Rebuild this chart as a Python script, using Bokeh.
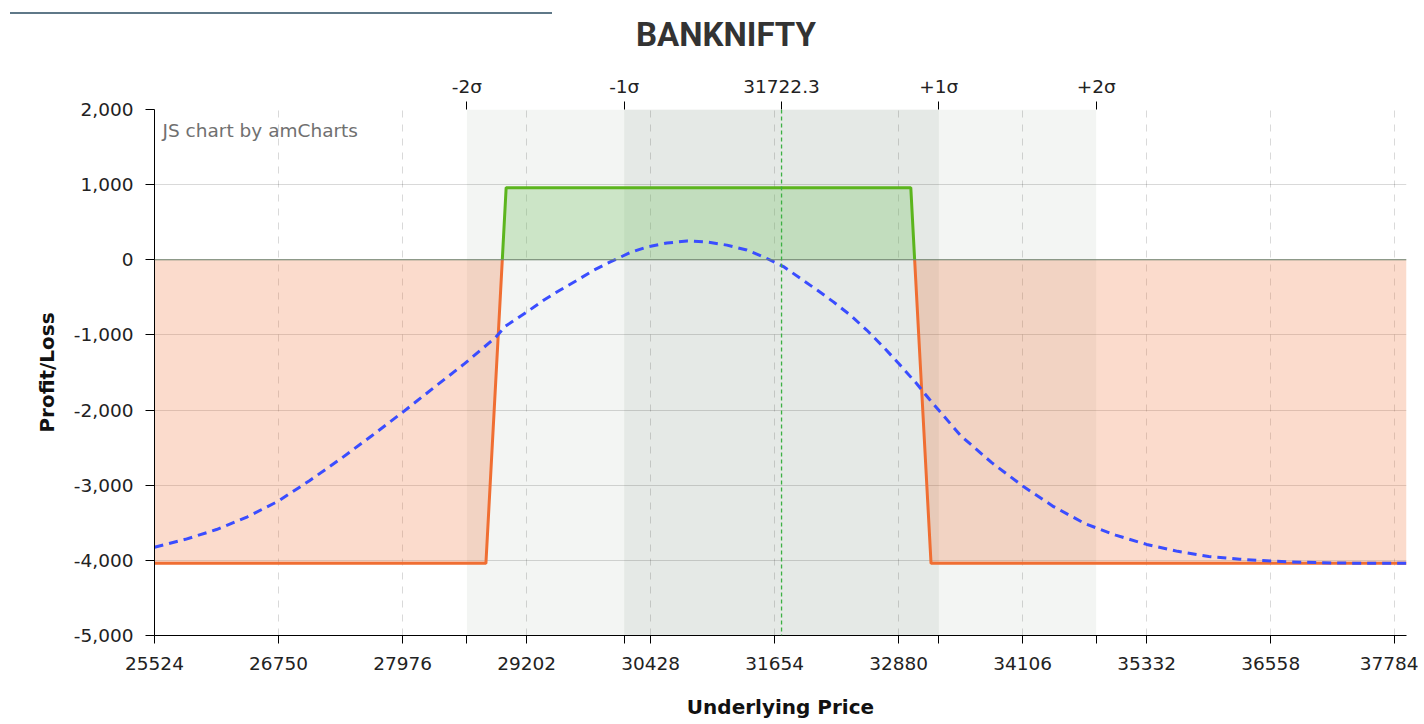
import numpy as np
from bokeh.plotting import figure
from bokeh.layouts import column
from bokeh.models import (Range1d, LinearAxis, FixedTicker, NumeralTickFormatter,
                          BoxAnnotation, Span, Label, Div)
from bokeh.embed import file_html
from bokeh.resources import INLINE

# ---------------- data ----------------
title_text = "BANKNIFTY"
spot = 31722.3
sigma_ticks = [28612.3, 30167.3, 33277.3, 34832.3]
top_ticks = [28612.3, 30167.3, 31722.3, 33277.3, 34832.3]
top_labels = ["-2σ", "-1σ", "31722.3", "+1σ", "+2σ"]
x_ticks = [25524, 26750, 27976, 29202, 30428, 31654, 32880, 34106, 35332, 36558, 37784]
y_ticks = [-5000, -4000, -3000, -2000, -1000, 0, 1000, 2000]

# expiry payoff (vertices)
payoff_x = [25524, 28800, 28962, 29000, 33000, 33038, 33200, 37900]
payoff_y = [-4040, -4040, 0, 960, 960, 0, -4040, -4040]

# theoretical (today) P/L curve
curve_x = [25524, 25830, 26137, 26443, 26750, 27056, 27363, 27669, 27976, 28282,
           28589, 28895, 28992, 29206, 29370, 29518, 29700, 29864, 30029, 30226,
           30391, 30589, 30787, 30984, 31182, 31379, 31543, 31741, 31906, 32071,
           32235, 32400, 32564, 32729, 32894, 33059, 33186, 33493, 33800, 34106,
           34412, 34719, 35025, 35332, 35638, 35945, 36251, 36558, 36864, 37171,
           37478, 37784, 37900]
curve_y = [-3825, -3720, -3590, -3420, -3210, -2940, -2650, -2345, -2030, -1705,
           -1382, -1035, -885, -694, -539, -415, -273, -140, -29, 96,
           170, 223, 250, 237, 195, 130, 40, -90, -245, -400,
           -560, -735, -935, -1160, -1400, -1650, -1860, -2340, -2700, -3010,
           -3285, -3509, -3665, -3788, -3880, -3948, -3985, -4010, -4025, -4035,
           -4038, -4040, -4040]

# ---------------- header (title + page rule) ----------------
HEAD_H = 60
header = Div(
    text=('<div style="position:relative;width:1418px;height:%dpx;">'
          '<div style="position:absolute;left:10px;top:12px;width:542px;height:0;'
          'border-top:2px solid #5f7888;"></div>'
          '<div style="position:absolute;left:636px;top:18px;font-family:Roboto;'
          'font-size:33px;font-weight:bold;color:#333;line-height:33px;'
          'white-space:nowrap;">%s</div></div>') % (HEAD_H, title_text),
    width=1418, height=HEAD_H, margin=0)

# ---------------- figure ----------------
p = figure(width=1418, height=722 - HEAD_H, x_range=Range1d(25524, 37900),
           y_range=Range1d(-5000, 2000),
           output_backend="svg", toolbar_location=None, margin=0,
           min_border_left=154, min_border_right=12, min_border_top=109 - HEAD_H,
           min_border_bottom=87)
p.outline_line_color = None
p.background_fill_color = "white"
p.border_fill_color = "white"

FONT = "DejaVu Sans"

# sigma bands
p.add_layout(BoxAnnotation(left=sigma_ticks[0], right=sigma_ticks[3], fill_color="#f3f5f3",
                           fill_alpha=1, line_alpha=0, level="image"))
p.add_layout(BoxAnnotation(left=sigma_ticks[1], right=sigma_ticks[2], fill_color="#e5e9e6",
                           fill_alpha=1, line_alpha=0, level="image"))

# axes
xt = FixedTicker(ticks=x_ticks, minor_ticks=sigma_ticks)
ax = p.xaxis[0]
ax.ticker = xt
ax.formatter = NumeralTickFormatter(format="0")
ax.major_tick_out = 8
ax.major_tick_in = 0
ax.minor_tick_out = 8
ax.minor_tick_in = 0
ax.minor_tick_line_color = "black"
ax.major_label_standoff = 13
ax.major_label_text_font = FONT
ax.major_label_text_font_size = "18.5px"
ax.major_label_text_color = "#222"
ax.axis_label = "Underlying Price"
ax.axis_label_text_font = FONT
ax.axis_label_text_font_style = "bold"
ax.axis_label_text_font_size = "20px"
ax.axis_label_text_color = "#111"
ax.axis_label_standoff = 22
ax.axis_line_color = "black"

yt = FixedTicker(ticks=y_ticks)
ay = p.yaxis[0]
ay.ticker = yt
ay.formatter = NumeralTickFormatter(format="0,0")
ay.major_tick_out = 9
ay.major_tick_in = 0
ay.minor_tick_out = 0
ay.minor_tick_in = 0
ay.major_label_standoff = 12
ay.major_label_text_font = FONT
ay.major_label_text_font_size = "18.5px"
ay.major_label_text_color = "#222"
ay.axis_label = "Profit/Loss"
ay.axis_label_text_font = FONT
ay.axis_label_text_font_style = "bold"
ay.axis_label_text_font_size = "20px"
ay.axis_label_text_color = "#111"
ay.axis_label_standoff = 12
ay.axis_line_color = "black"

top = LinearAxis(ticker=FixedTicker(ticks=top_ticks),
                 major_label_overrides=dict(zip(top_ticks, top_labels)),
                 axis_line_color=None, major_tick_out=8, major_tick_in=0,
                 minor_tick_out=0, minor_tick_in=0, major_label_standoff=5,
                 major_label_text_font=FONT, major_label_text_font_size="18.5px",
                 major_label_text_color="#222")
p.add_layout(top, "above")

# grids
p.xgrid[0].ticker = xt
p.ygrid[0].ticker = yt
p.xgrid.grid_line_color = "black"
p.xgrid.grid_line_alpha = 0.15
p.xgrid.grid_line_dash = "7 7"
p.ygrid.grid_line_color = "black"
p.ygrid.grid_line_alpha = 0.15

# split payoff into loss / profit segments
px = np.array(payoff_x, dtype=float)
py = np.array(payoff_y, dtype=float)
zeros = [i for i, v in enumerate(payoff_y) if v == 0]
i0, i1 = zeros[0], zeros[1]
left_x, left_y = px[:i0 + 1], py[:i0 + 1]
prof_x, prof_y = px[i0:i1 + 1], py[i0:i1 + 1]
right_x, right_y = px[i1:], py[i1:]

ORANGE = "#f06e32"
GREEN = "#5cb51e"

p.varea(x=left_x, y1=left_y, y2=0, fill_color=ORANGE, fill_alpha=0.25)
p.varea(x=right_x, y1=right_y, y2=0, fill_color=ORANGE, fill_alpha=0.25)
p.varea(x=prof_x, y1=prof_y, y2=0, fill_color="#7ac36a", fill_alpha=0.32)

p.add_layout(Span(location=0, dimension="width", line_color="#6f836f", line_width=1))
p.add_layout(Span(location=spot, dimension="height", line_color="#3cb043",
                  line_dash="4 3", line_width=1.3))

p.line(left_x, left_y, line_color=ORANGE, line_width=3)
p.line(right_x, right_y, line_color=ORANGE, line_width=3)
p.line(prof_x, prof_y, line_color=GREEN, line_width=3)

p.line(curve_x, curve_y, line_color="#3a4dff", line_width=3, line_dash="9 6")

# watermark
p.add_layout(Label(x=8, y=505, x_units="screen", y_units="screen", text="JS chart by amCharts",
                   text_align="left", text_baseline="alphabetic", text_font=FONT,
                   text_font_size="18.5px", text_color="#707070"))

layout = column(header, p, spacing=0, margin=0)
open("out.html", "w").write(file_html(layout, INLINE))
